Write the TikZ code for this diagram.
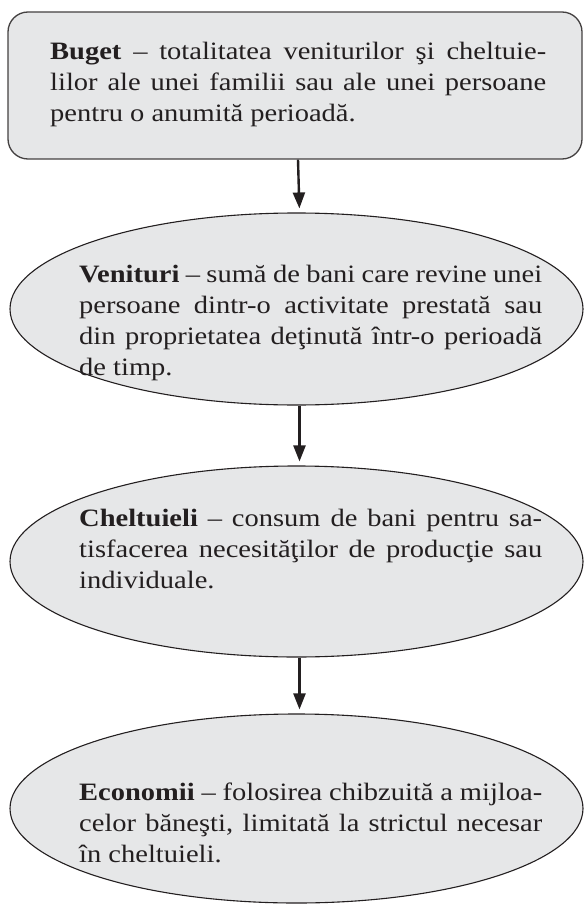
\documentclass[tikz,border=0pt]{standalone}
\usepackage{fontspec}
\setmainfont{Liberation Serif}[FakeStretch=1.14]
\usetikzlibrary{shapes.geometric,arrows.meta}

\definecolor{panelgray}{HTML}{E6E7E8}
\definecolor{inkdark}{HTML}{231F20}

\tikzset{
  textblock/.style={anchor=base west, inner sep=0pt, align=justify, text=inkdark,
    text width=463pt, font=\fontsize{25}{31}\selectfont},
  flowarrow/.style={draw=inkdark, line width=2.4pt, -{Triangle[length=16pt,width=12pt]}, shorten >=4pt},
}

\begin{document}
\begin{tikzpicture}[x=1pt,y=-1pt]
  \useasboundingbox (0,0) rectangle (584,904);
  % shapes
  \begin{scope}[every node/.style={draw=inkdark, fill=panelgray, line width=1.1pt, inner sep=0pt}]
    \node[rounded corners=20pt, draw=inkdark!85, line width=1.3pt, minimum width=574pt, minimum height=147pt] (B) at (295,85.5) {};
    \node[ellipse, minimum width=573pt, minimum height=192pt] (V) at (296.5,309) {};
    \node[ellipse, minimum width=573pt, minimum height=191pt] (C) at (296.5,561.5) {};
    \node[ellipse, minimum width=573pt, minimum height=189pt] (E) at (296.5,808.5) {};
  \end{scope}
  % texts
  \node[textblock, text width=496pt] (Bt) at (50,59.6) {\textbf{Buget} – totalitatea veniturilor şi cheltuie-\linebreak lilor ale unei familii sau ale unei persoane\linebreak pentru o anumită perioadă.};
  \node[textblock] (Vt) at (79,282) {\textbf{Venituri} – sumă de bani care revine unei\linebreak persoane dintr-o activitate prestată sau\linebreak din proprietatea deţinută într-o perioadă\linebreak de timp.};
  \node[textblock] (Ct) at (79,526.5) {\textbf{Cheltuieli} – consum de bani pentru sa-\linebreak tisfacerea necesităţilor de producţie sau\linebreak individuale.};
  \node[textblock] (Et) at (79,800) {\textbf{Economii} – folosirea chibzuită a mijloa-\linebreak celor băneşti, limitată la strictul necesar\linebreak în cheltuieli.};
  % arrows
  \draw[flowarrow] ([xshift=3pt]B.south) -- ([xshift=3pt]V.north);
  \draw[flowarrow] ([xshift=3pt]V.south) -- ([xshift=3pt]C.north);
  \draw[flowarrow] ([xshift=3pt]C.south) -- ([xshift=3pt]E.north);
\end{tikzpicture}
\end{document}
